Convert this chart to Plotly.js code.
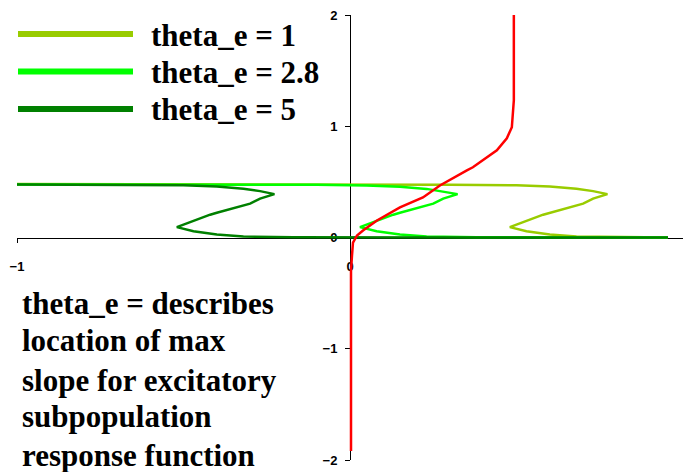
<!DOCTYPE html>
<html>
<head>
<meta charset="utf-8">
<script src="https://cdn.plot.ly/plotly-3.0.1.min.js"></script>
<style>
  html, body { margin: 0; padding: 0; background: #fff; }
  #chart { width: 683px; height: 472px; }
</style>
</head>
<body>
<div id="chart"></div>
<script>
// Excitatory nullclines for three values of theta_e (x = E, y = I)
const seriesNames = ["theta_e = 1", "theta_e = 2.8", "theta_e = 5"];
const seriesColors = ["#99cc00", "#00ff00", "#008000"];

const xTheta1 = [-1.00, 0.00, 0.30, 0.50, 0.60, 0.68, 0.73, 0.773, 0.73, 0.70, 0.60, 0.58, 0.52, 0.48, 0.53, 0.60, 0.68, 0.83, 0.955];
const yTheta1 = [0.480, 0.478, 0.475, 0.470, 0.459, 0.439, 0.417, 0.390, 0.349, 0.304, 0.223, 0.205, 0.138, 0.093, 0.057, 0.027, 0.009, 0.002, 0.000];

const xTheta28 = [-1.00, -0.30, -0.10, 0.05, 0.15, 0.23, 0.28, 0.323, 0.28, 0.25, 0.15, 0.13, 0.07, 0.03, 0.08, 0.15, 0.23, 0.38, 0.955];
const yTheta28 = [0.477, 0.476, 0.474, 0.468, 0.457, 0.437, 0.415, 0.390, 0.349, 0.304, 0.223, 0.205, 0.138, 0.093, 0.057, 0.027, 0.009, 0.002, 0.000];

const xTheta5 = [-1.00, -0.70, -0.50, -0.40, -0.32, -0.27, -0.227, -0.27, -0.30, -0.40, -0.42, -0.48, -0.52, -0.47, -0.40, -0.32, -0.17, 0.30, 0.955];
const yTheta5 = [0.476, 0.475, 0.470, 0.459, 0.439, 0.417, 0.390, 0.349, 0.304, 0.223, 0.205, 0.138, 0.093, 0.057, 0.027, 0.009, 0.002, 0.000, 0.000];

// Inhibitory nullcline
const xInhib = [0.003, 0.003, 0.003, 0.006, 0.009, 0.021, 0.039, 0.081, 0.150, 0.219, 0.270, 0.351, 0.369, 0.441, 0.471, 0.486, 0.489, 0.492, 0.492];
const yInhib = [-1.92, -0.57, -0.30, -0.16, -0.045, 0.018, 0.063, 0.153, 0.270, 0.360, 0.468, 0.604, 0.631, 0.784, 0.892, 0.991, 1.117, 1.234, 2.000];

const xTicks = [-1, 0, 1];
const yTicks = [-2, -1, 0, 1, 2];

const noteLines = ["theta_e = describes", "location of max", "slope for excitatory", "subpopulation", "response function"];

// plot geometry (pixels)
const W = 683, H = 472, M = { l: 17, r: 0, t: 15, b: 12 };
const pw = W - M.l - M.r, ph = H - M.t - M.b;
const px = v => (v - M.l) / pw;          // pixel x -> paper
const py = v => (H - M.b - v) / ph;      // pixel y -> paper

const xs = [xTheta1, xTheta28, xTheta5];
const ys = [yTheta1, yTheta28, yTheta5];

const traces = seriesNames.map((n, i) => ({
  type: "scatter", mode: "lines", name: n,
  x: xs[i], y: ys[i],
  line: { color: seriesColors[i], width: 2.5 },
  showlegend: false, hoverinfo: "skip"
}));
traces.push({
  type: "scatter", mode: "lines", name: "inhibitory",
  x: xInhib, y: yInhib,
  line: { color: "#ff0000", width: 2.5 },
  showlegend: false, hoverinfo: "skip"
});

// hand-built key: long swatches with big serif labels
const keyY = [34, 71.5, 109];
const shapes = seriesNames.map((n, i) => ({
  type: "line", xref: "paper", yref: "paper",
  x0: px(18), x1: px(133), y0: py(keyY[i]), y1: py(keyY[i]),
  line: { color: seriesColors[i], width: 6 }
}));
const annotations = seriesNames.map((n, i) => ({
  xref: "paper", yref: "paper", x: px(149), y: py(keyY[i] + 1),
  xanchor: "left", yanchor: "middle", showarrow: false,
  text: "<b>" + n + "</b>",
  font: { family: "Liberation Serif", size: 31, color: "#000" }
}));

// explanatory note, one annotation per line
const noteY = [303, 340, 380, 416, 455];
noteLines.forEach((t, i) => annotations.push({
  xref: "paper", yref: "paper", x: px(20), y: py(noteY[i]),
  xanchor: "left", yanchor: "middle", showarrow: false,
  text: "<b>" + t + "</b>",
  font: { family: "Liberation Serif", size: 31, color: "#000" }
}));

const tickFont = { family: "Liberation Sans", size: 13, color: "#000", weight: "bold" };

const layout = {
  width: W, height: H,
  margin: M,
  paper_bgcolor: "#fff", plot_bgcolor: "#fff",
  showlegend: false,
  xaxis: {
    range: [-1, 1], anchor: "free", position: 0.5,
    showgrid: false, zeroline: false,
    showline: true, linecolor: "#000", linewidth: 1,
    ticks: "outside", ticklen: 4, tickcolor: "#000", tickwidth: 1,
    tickvals: xTicks, ticklabelstandoff: 13,
    tickfont: tickFont, layer: "below traces", fixedrange: true
  },
  yaxis: {
    range: [-2, 2], anchor: "free", position: 0.5,
    showgrid: false, zeroline: false,
    showline: true, linecolor: "#000", linewidth: 1,
    ticks: "outside", ticklen: 5, tickcolor: "#000", tickwidth: 1,
    tickvals: yTicks, ticklabelstandoff: 5,
    tickfont: tickFont, layer: "below traces", fixedrange: true
  },
  shapes: shapes,
  annotations: annotations
};

Plotly.newPlot("chart", traces, layout, { staticPlot: true, displayModeBar: false });
</script>
</body>
</html>
